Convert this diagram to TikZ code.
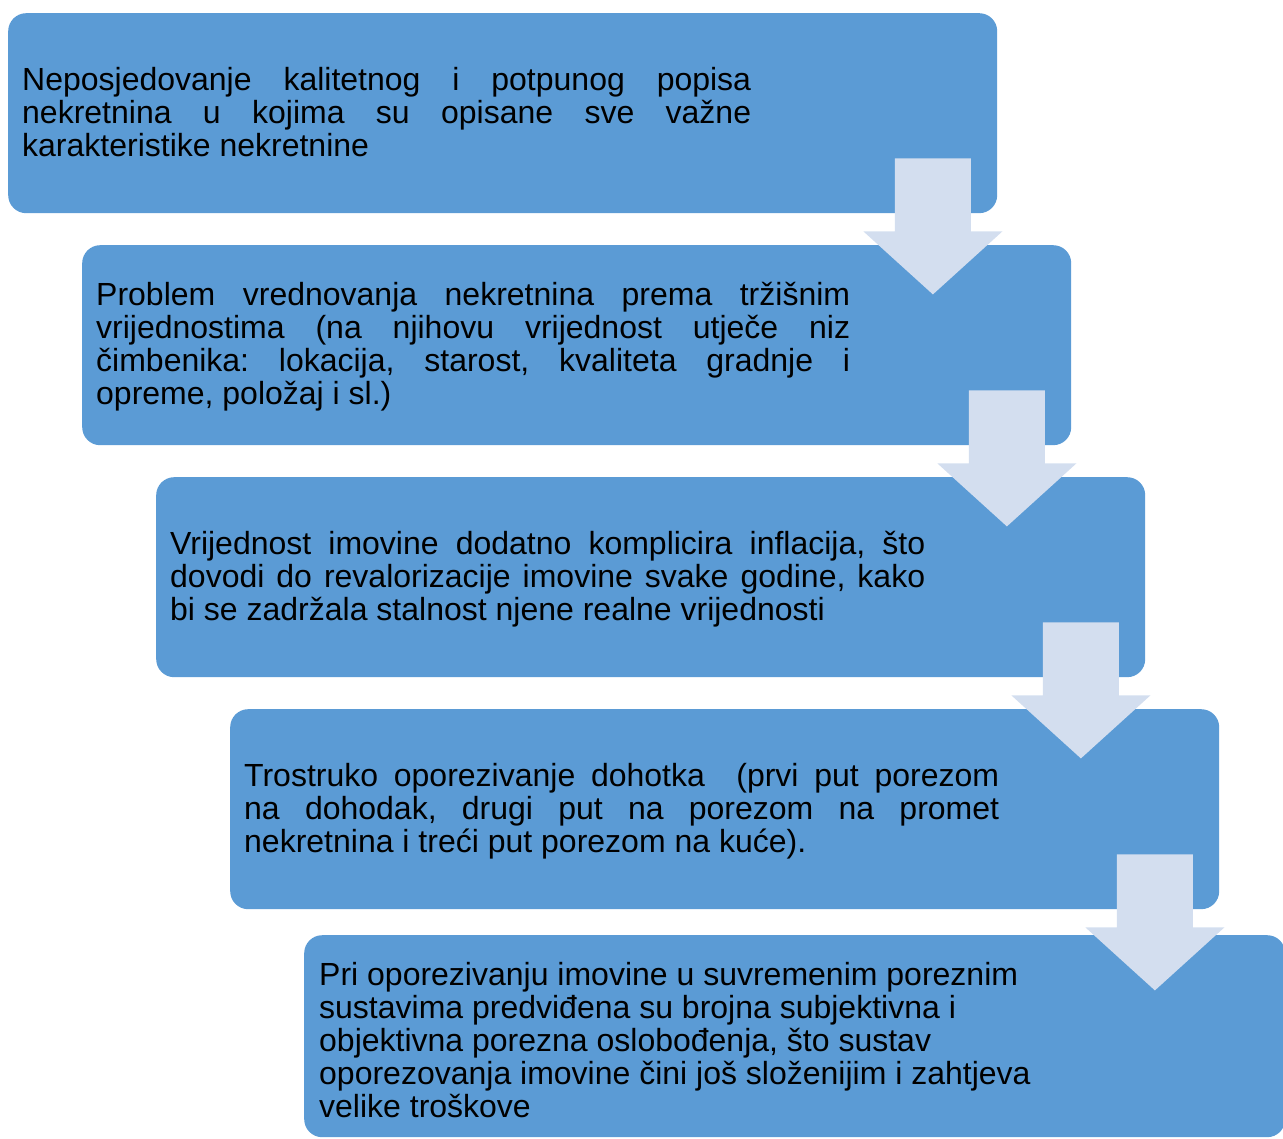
\documentclass[tikz,border=0pt]{standalone}
\usepackage{fontspec}
\setmainfont{Liberation Sans}
\frenchspacing
\definecolor{boxblue}{HTML}{5B9BD5}
\definecolor{arrowfill}{HTML}{D3DEEF}
\newcommand{\jl}[2]{\hbox to #1{#2}}
\begin{document}
\begin{tikzpicture}[x=1pt,y=-1pt,
  stepbox/.style={fill=boxblue, rounded corners=18pt, minimum width=989pt,
    minimum height=200pt, anchor=north west, inner sep=0pt, draw=none},
  steptext/.style={anchor=west, inner sep=0pt, align=left,
    font=\fontsize{32}{33}\selectfont\frenchspacing},
  downarrow/.style={fill=arrowfill, draw=none}]
\useasboundingbox (0,0) rectangle (1283,1139);
\clip (0,0) rectangle (1283,1139);

% boxes
\node[stepbox] (b1) at (8,13) {};
\node[stepbox] (b2) at (82,245) {};
\node[stepbox] (b3) at (156,477) {};
\node[stepbox] (b4) at (230,709) {};
\node[stepbox, minimum width=981pt, minimum height=202pt] (b5) at (304,935) {};

% texts
\node[steptext] (t1) at (22,112) {%
\jl{729pt}{Neposjedovanje kalitetnog i potpunog popisa}\\
\jl{729pt}{nekretnina u kojima su opisane sve važne}\\
karakteristike nekretnine};
\node[steptext] (t2) at (96,347) {%
\jl{754pt}{Problem vrednovanja nekretnina prema tržišnim}\\
\jl{754pt}{vrijednostima (na njihovu vrijednost utječe niz}\\
\jl{754pt}{čimbenika: lokacija, starost, kvaliteta gradnje i}\\
opreme, položaj i sl.)};
\node[steptext] (t3) at (170,579) {%
\jl{755pt}{Vrijednost imovine dodatno komplicira inflacija, što}\\
\jl{755pt}{dovodi do revalorizacije imovine svake godine, kako}\\
bi se zadržala stalnost njene realne vrijednosti};
\node[steptext] (t4) at (244,811) {%
\jl{755pt}{Trostruko oporezivanje dohotka\ \ (prvi put porezom}\\
\jl{755pt}{na dohodak, drugi put na porezom na promet}\\
nekretnina i treći put porezom na kuće).};
\node[steptext] (t5) at (319,1040) {%
Pri oporezivanju imovine u suvremenim poreznim\\
sustavima predviđena su brojna subjektivna i\\
objektivna porezna oslobođenja, što sustav\\
oporezovanja imovine čini još složenijim i zahtjeva\\
velike troškove};

% block arrows between boxes
\foreach \k in {1,2,3,4} {
  \begin{scope}[shift={(b\k.south east)}]
    \fill[downarrow] (-102.5,-55) -- (-26.5,-55) -- (-26.5,18) -- (5,18)
      -- (-64.5,81) -- (-134,18) -- (-102.5,18) -- cycle;
  \end{scope}
}
\end{tikzpicture}
\end{document}
